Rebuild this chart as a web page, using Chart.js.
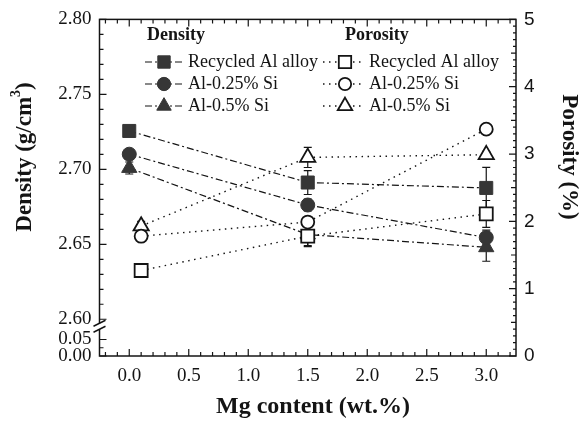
<!DOCTYPE html>
<html>
<head>
<meta charset="utf-8">
<script src="https://cdn.jsdelivr.net/npm/chart.js@4/dist/chart.umd.min.js"></script>
<style>
  html, body { margin: 0; padding: 0; background: #fff; }
</style>
</head>
<body>
<canvas id="chart" width="583" height="423"></canvas>
<script>
// Datos
const mgContent = [0.0, 1.5, 3.0];
const porosityX = [0.1, 1.5, 3.0];
const seriesNames = ['Recycled Al alloy', 'Al-0.25% Si', 'Al-0.5% Si'];

const densityRecycled = [2.7256, 2.6912, 2.6876];
const densitySi025 = [2.7101, 2.6762, 2.6545];
const densitySi05 = [2.7009, 2.6565, 2.6480];
const densityErrRecycled = [0.002, 0.008, 0.0137];
const densityErrSi025 = [0.002, 0.004, 0.005];
const densityErrSi05 = [0.004, 0.008, 0.0093];

const porosityRecycled = [1.27, 1.78, 2.11];
const porositySi025 = [1.78, 1.99, 3.37];
const porositySi05 = [1.93, 2.95, 2.99];
const porosityErrRecycled = [0.06, 0.14, 0.2];
const porosityErrSi025 = [0.05, 0.05, 0.05];
const porosityErrSi05 = [0.07, 0.15, 0.05];

const xTicks = [0.0, 0.5, 1.0, 1.5, 2.0, 2.5, 3.0];
const densityTicks = [2.60, 2.65, 2.70, 2.75, 2.80];
const breakTickLabels = ['0.00', '0.05'];
const porosityTicks = [0, 1, 2, 3, 4, 5];

const SERIF = "'Liberation Serif', 'Times New Roman', serif";
const SANS = "'Liberation Sans', Arial, sans-serif";
const INK = '#141414';
const FILL = '#363636';

// valores del eje partido (zona 0.00 - 0.05)
const densityMin = 2.5755;
const breakTickValues = [densityMin, 2.5865];

const shapes = ['rect', 'circle', 'triangle'];
const radii = { rect: 9.2, circle: 7, triangle: 8.8 };

function densitySet(i, values, errs) {
  return {
    label: 'Density ' + seriesNames[i],
    data: mgContent.map((x, k) => ({ x: x, y: values[k] })),
    errs: errs,
    yAxisID: 'y',
    order: 1,
    borderColor: INK,
    borderWidth: 1.2,
    borderDash: [7, 3, 2, 3],
    pointStyle: shapes[i],
    pointRadius: radii[shapes[i]],
    pointHoverRadius: radii[shapes[i]],
    pointBackgroundColor: FILL,
    pointBorderColor: FILL,
    pointBorderWidth: 1,
    tension: 0,
    fill: false
  };
}

function porositySet(i, values, errs) {
  return {
    label: 'Porosity ' + seriesNames[i],
    data: porosityX.map((x, k) => ({ x: x, y: values[k] })),
    errs: errs,
    yAxisID: 'y2',
    order: 0,
    borderColor: INK,
    borderWidth: 1.4,
    borderDash: [1.5, 4.5],
    pointStyle: shapes[i],
    pointRadius: shapes[i] === 'circle' ? 6.5 : radii[shapes[i]],
    pointHoverRadius: radii[shapes[i]],
    pointBackgroundColor: '#ffffff',
    pointBorderColor: INK,
    pointBorderWidth: 1.8,
    tension: 0,
    fill: false
  };
}

// dibuja un marcador igual que Chart.js
function drawMarker(ctx, shape, x, y, r, fill, stroke, lw) {
  ctx.save();
  ctx.beginPath();
  if (shape === 'rect') {
    const s = r * Math.SQRT1_2;
    ctx.rect(x - s, y - s, 2 * s, 2 * s);
  } else if (shape === 'circle') {
    ctx.arc(x, y, r, 0, Math.PI * 2);
  } else {
    ctx.moveTo(x, y - r);
    ctx.lineTo(x + r * Math.sin(Math.PI * 2 / 3), y - r * Math.cos(Math.PI * 2 / 3));
    ctx.lineTo(x + r * Math.sin(Math.PI * 4 / 3), y - r * Math.cos(Math.PI * 4 / 3));
    ctx.closePath();
  }
  ctx.fillStyle = fill;
  ctx.fill();
  ctx.lineWidth = lw;
  ctx.strokeStyle = stroke;
  ctx.stroke();
  ctx.restore();
}

const errorBars = {
  id: 'errorBars',
  beforeDatasetsDraw(chart) {
    const ctx = chart.ctx;
    ctx.save();
    ctx.strokeStyle = INK;
    ctx.lineWidth = 1.2;
    chart.data.datasets.forEach(ds => {
      const sy = chart.scales[ds.yAxisID];
      const sx = chart.scales.x;
      ds.data.forEach((p, k) => {
        const e = ds.errs[k];
        const px = sx.getPixelForValue(p.x);
        const top = sy.getPixelForValue(p.y + e);
        const bot = sy.getPixelForValue(p.y - e);
        ctx.beginPath();
        ctx.moveTo(px, top); ctx.lineTo(px, bot);
        ctx.moveTo(px - 4, top); ctx.lineTo(px + 4, top);
        ctx.moveTo(px - 4, bot); ctx.lineTo(px + 4, bot);
        ctx.stroke();
      });
    });
    ctx.restore();
  }
};

const frameAndTicks = {
  id: 'frameAndTicks',
  afterDraw(chart) {
    const ctx = chart.ctx;
    const a = chart.chartArea;
    const sx = chart.scales.x, sy = chart.scales.y, sy2 = chart.scales.y2;
    ctx.save();
    ctx.strokeStyle = INK;
    ctx.lineWidth = 1.5;
    ctx.strokeRect(a.left, a.top, a.right - a.left, a.bottom - a.top);

    ctx.lineWidth = 1.2;
    ctx.beginPath();
    // eje x abajo y arriba
    for (let n = -2; n <= 32; n++) {
      const v = n / 10;
      const px = sx.getPixelForValue(v);
      const len = n % 5 === 0 ? 7 : 4;
      ctx.moveTo(px, a.bottom); ctx.lineTo(px, a.bottom - len);
      ctx.moveTo(px, a.top); ctx.lineTo(px, a.top + len);
    }
    // densidad
    for (let n = 260; n <= 280; n++) {
      const py = sy.getPixelForValue(n / 100);
      const len = n % 5 === 0 ? 7 : 4;
      ctx.moveTo(a.left, py); ctx.lineTo(a.left + len, py);
    }
    breakTickValues.forEach(v => {
      const py = sy.getPixelForValue(v);
      ctx.moveTo(a.left, py); ctx.lineTo(a.left + 7, py);
    });
    const mid = sy.getPixelForValue((breakTickValues[0] + breakTickValues[1]) / 2);
    ctx.moveTo(a.left, mid); ctx.lineTo(a.left + 4, mid);
    // porosidad
    for (let n = 0; n <= 50; n++) {
      const py = sy2.getPixelForValue(n / 10);
      const len = n % 10 === 0 ? 7 : (n % 5 === 0 ? 5 : 3);
      ctx.moveTo(a.right, py); ctx.lineTo(a.right - len, py);
    }
    ctx.stroke();

    // corte del eje
    const yb = sy.getPixelForValue(2.60) + 4;
    ctx.fillStyle = '#fff';
    ctx.fillRect(a.left - 2, yb, 4, 6);
    ctx.lineWidth = 1.5;
    ctx.beginPath();
    ctx.moveTo(a.left - 6, yb + 3); ctx.lineTo(a.left + 6, yb - 3);
    ctx.moveTo(a.left - 6, yb + 9); ctx.lineTo(a.left + 6, yb + 3);
    ctx.stroke();
    ctx.restore();
  }
};

const titlesAndLegend = {
  id: 'titlesAndLegend',
  afterDraw(chart) {
    const ctx = chart.ctx;
    ctx.save();
    ctx.fillStyle = INK;

    // titulo eje izquierdo
    ctx.save();
    ctx.translate(25, 157);
    ctx.rotate(-Math.PI / 2);
    const t1 = 'Density (g/cm', t2 = ')';
    ctx.font = 'bold 14px ' + SERIF;
    const w3 = ctx.measureText('3').width;
    ctx.font = 'bold 23px ' + SERIF;
    const w1 = ctx.measureText(t1).width, w2 = ctx.measureText(t2).width;
    let x0 = -(w1 + w3 + w2) / 2;
    ctx.textBaseline = 'middle';
    ctx.textAlign = 'left';
    ctx.fillText(t1, x0, 0);
    ctx.font = 'bold 14px ' + SERIF;
    ctx.fillText('3', x0 + w1, -9);
    ctx.font = 'bold 23px ' + SERIF;
    ctx.fillText(t2, x0 + w1 + w3, 0);
    ctx.restore();

    // titulo eje derecho
    ctx.save();
    ctx.translate(569, 157);
    ctx.rotate(Math.PI / 2);
    ctx.font = 'bold 23px ' + SERIF;
    ctx.textAlign = 'center';
    ctx.textBaseline = 'middle';
    ctx.fillText('Porosity (%)', 0, 0);
    ctx.restore();

    // titulo eje x
    ctx.font = 'bold 24px ' + SERIF;
    ctx.textAlign = 'center';
    ctx.textBaseline = 'middle';
    ctx.fillText('Mg content (wt.%)', 313, 407);

    // leyenda
    ctx.textAlign = 'left';
    ctx.font = 'bold 18px ' + SERIF;
    ctx.fillText('Density', 147, 35);
    ctx.fillText('Porosity', 345, 35);
    const rows = [62, 84, 106];
    ctx.font = '18px ' + SERIF;
    seriesNames.forEach((name, i) => {
      const y = rows[i];
      ctx.save();
      ctx.strokeStyle = INK;
      ctx.lineWidth = 1.2;
      ctx.setLineDash([7, 3, 2, 3]);
      ctx.beginPath(); ctx.moveTo(145, y); ctx.lineTo(183, y); ctx.stroke();
      ctx.setLineDash([1.5, 4.5]);
      ctx.lineWidth = 1.4;
      ctx.beginPath(); ctx.moveTo(323, y); ctx.lineTo(365, y); ctx.stroke();
      ctx.restore();
      drawMarker(ctx, shapes[i], 164, y, radii[shapes[i]] * 0.95, FILL, FILL, 1);
      drawMarker(ctx, shapes[i], 345, y, (shapes[i] === 'circle' ? 6.5 : radii[shapes[i]]) * 0.95, '#fff', INK, 1.8);
      ctx.fillStyle = INK;
      ctx.fillText(name, 188, y);
      ctx.fillText(name, 369, y);
    });
    ctx.restore();
  }
};

new Chart(document.getElementById('chart'), {
  type: 'line',
  data: {
    datasets: [
      densitySet(0, densityRecycled, densityErrRecycled),
      densitySet(1, densitySi025, densityErrSi025),
      densitySet(2, densitySi05, densityErrSi05),
      porositySet(0, porosityRecycled, porosityErrRecycled),
      porositySet(1, porositySi025, porosityErrSi025),
      porositySet(2, porositySi05, porosityErrSi05)
    ]
  },
  options: {
    responsive: false,
    animation: false,
    devicePixelRatio: 1,
    layout: { padding: { top: 17, left: 0, right: 0, bottom: 0 } },
    plugins: {
      legend: { display: false },
      tooltip: { enabled: false }
    },
    scales: {
      x: {
        type: 'linear',
        min: -0.25,
        max: 3.25,
        afterBuildTicks: s => { s.ticks = xTicks.map(v => ({ value: v })); },
        afterFit: s => { s.height = 67; },
        grid: { display: false, drawTicks: false },
        border: { display: false },
        ticks: {
          padding: 9,
          color: INK,
          font: { family: SERIF, size: 19 },
          callback: v => v.toFixed(1)
        }
      },
      y: {
        position: 'left',
        min: densityMin,
        max: 2.80,
        afterBuildTicks: s => {
          s.ticks = breakTickValues.concat(densityTicks).map(v => ({ value: v }));
        },
        afterFit: s => { s.width = 99.5; },
        grid: { display: false, drawTicks: false },
        border: { display: false },
        ticks: {
          padding: 8,
          color: INK,
          font: { family: SERIF, size: 19, lineHeight: 1 },
          callback: v => {
            const k = breakTickValues.findIndex(b => Math.abs(b - v) < 1e-6);
            return k >= 0 ? breakTickLabels[k] : v.toFixed(2);
          }
        }
      },
      y2: {
        position: 'right',
        min: 0,
        max: 5,
        afterBuildTicks: s => { s.ticks = porosityTicks.map(v => ({ value: v })); },
        afterFit: s => { s.width = 67; },
        grid: { display: false, drawTicks: false },
        border: { display: false },
        ticks: {
          padding: 8,
          color: INK,
          font: { family: SANS, size: 19 },
          callback: v => String(v)
        }
      }
    }
  },
  plugins: [errorBars, frameAndTicks, titlesAndLegend]
});
</script>
</body>
</html>
